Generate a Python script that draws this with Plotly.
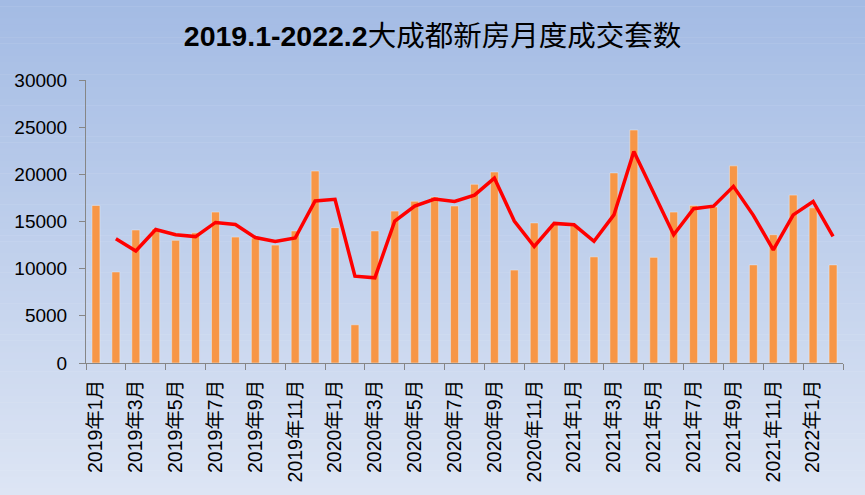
import plotly.graph_objects as go

months = []
for y, ms in [(2019, range(1, 13)), (2020, range(1, 13)), (2021, range(1, 13)), (2022, range(1, 3))]:
    for m in ms:
        months.append(f"{y}年{m}月")

sales = [16700, 9650, 14100, 14200, 13000, 13800, 16000, 13350, 13250, 12500, 14000, 20350,
         14350, 4050, 14000, 16100, 17150, 17600, 16650, 18950, 20250, 9850, 14850, 14750,
         14550, 11250, 20150, 24700, 11200, 16000, 16700, 16550, 20900, 10400, 13600, 17800,
         16450, 10400]

trend = [None, 13175, 11875, 14150, 13600, 13400, 14900, 14675, 13300, 12875, 13250, 17175,
         17350, 9200, 9025, 15050, 16625, 17375, 17125, 17800, 19600, 15050, 12350, 14800,
         14650, 12900, 15700, 22425, 17950, 13600, 16350, 16625, 18725, 15650, 12000, 15700,
         17125, 13425]

title_text = "<b>2019.1-2022.2</b>大成都新房月度成交套数"
y_ticks = [0, 5000, 10000, 15000, 20000, 25000, 30000]
y_tick_text = ["0", "5000", "10000", "15000", "20000", "25000", "30000"]

idx = list(range(len(months)))
label_idx = idx[::2]
label_text = [months[i] for i in label_idx]

W, H = 865, 495
mt, mb, ml, mr = 80, 132, 86, 22
plot_h = H - mt - mb

fig = go.Figure()
fig.add_trace(go.Bar(x=idx, y=sales, marker_color="#F79646", width=0.4, showlegend=False))
fig.add_trace(go.Scatter(x=idx, y=trend, mode="lines", line=dict(color="#FF0000", width=3.5),
                         showlegend=False))

# gradient background as thin bands
top = (0xA3, 0xBB, 0xE4)
bot = (0xDD, 0xE5, 0xF4)
n = 80
shapes = []
for i in range(n):
    p0 = H * i / n
    p1 = H * (i + 1) / n + 0.5
    t = (i + 0.5) / n
    c = tuple(round(top[k] + (bot[k] - top[k]) * t) for k in range(3))
    y0 = (H - mb - p0) / plot_h
    y1 = (H - mb - p1) / plot_h
    shapes.append(dict(type="rect", xref="paper", yref="paper", x0=-ml / (W - ml - mr) - 0.01,
                       x1=1 + mr / (W - ml - mr) + 0.01, y0=y1, y1=y0,
                       fillcolor="rgb(%d,%d,%d)" % c, line=dict(width=0), layer="below"))

fig.update_layout(
    width=W, height=H,
    margin=dict(l=ml, r=mr, t=mt, b=mb),
    paper_bgcolor="rgba(0,0,0,0)", plot_bgcolor="rgba(0,0,0,0)",
    shapes=shapes,
    title=dict(text=title_text, x=0.5, xanchor="center", y=1 - 36 / H, yanchor="middle",
               font=dict(family="Liberation Sans, Noto Sans CJK SC", size=28.5, color="black")),
    bargap=0.6,
    font=dict(family="Liberation Sans, Noto Sans CJK SC", color="black"),
)
fig.update_xaxes(
    range=[-0.5, len(months) - 0.5], tickmode="array", tickvals=label_idx, ticktext=label_text,
    tickangle=-90, ticks="", showline=True, linecolor="#868686", linewidth=1, showgrid=False,
    zeroline=False, tickfont=dict(size=19.5, color="black"), ticklabelstandoff=8,
    minor=dict(tickmode="linear", tick0=-0.5, dtick=2, ticks="outside", ticklen=6,
               tickcolor="#868686", showgrid=False),
    automargin=False,
)
fig.update_yaxes(
    range=[0, 30000], tickmode="array", tickvals=y_ticks, ticktext=y_tick_text,
    ticks="outside", ticklen=6,
    tickcolor="#868686", showline=True, linecolor="#868686", linewidth=1, showgrid=False,
    zeroline=False, tickfont=dict(size=19, color="black"), automargin=False,
    ticklabelstandoff=8,
)

fig.write_html("out.html")
